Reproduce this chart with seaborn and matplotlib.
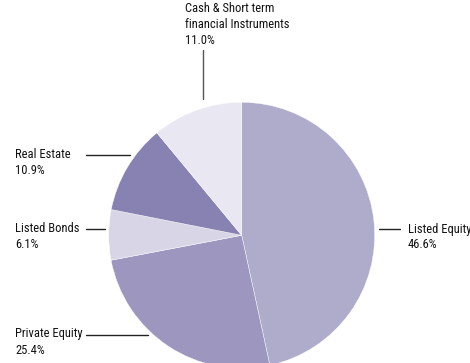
import matplotlib
matplotlib.use("Agg")
import matplotlib.pyplot as plt
import seaborn as sns

categories = ["Listed Equity", "Private Equity", "Listed Bonds", "Real Estate",
              "Cash & Short term\nfinancial Instruments"]
values = [46.6, 25.4, 6.1, 10.9, 11.0]
colors = ["#AFABCB", "#9D97C0", "#D8D5E7", "#8782B1", "#E9E7F2"]

sns.set_theme(style="white")
plt.rcParams['font.family'] = ['Roboto Condensed', 'DejaVu Sans']

W, H = 470, 363
fig = plt.figure(figsize=(4.7, 3.63), dpi=100)
ax = fig.add_axes([0, 0, 1, 1])

cx, cy, r = 241.7, H - 235.3, 133
ax.pie(values, colors=colors, startangle=90, counterclock=False,
       center=(cx, cy), radius=r, frame=True,
       wedgeprops=dict(edgecolor='white', linewidth=0.3))
ax.set_xlim(0, W)
ax.set_ylim(0, H)
ax.set_aspect('equal')
ax.axis('off')

fs = 9
tc = "#111111"
lc = "#222222"

def label(x, y, name, val, ha="left"):
    ax.text(x, H - y, f"{name}\n{val:.1f}%", ha=ha, va="top", fontsize=fs,
            color=tc, linespacing=1.3)

# Cash (top)
label(185, 2, categories[4], values[4])
ax.plot([203, 203], [H - 50, H - 99], color="#555555", lw=1)
# Real Estate
label(15, 148.5, categories[3], values[3])
ax.plot([86, 130], [H - 155, H - 155], color=lc, lw=1)
# Listed Bonds
label(15, 222.5, categories[2], values[2])
ax.plot([86, 105], [H - 229, H - 229], color=lc, lw=1)
# Private Equity
label(15, 327.5, categories[1], values[1])
ax.plot([86, 148], [H - 335, H - 335], color=lc, lw=1)
# Listed Equity
label(408, 222.5, categories[0], values[0])
ax.plot([379, 400], [H - 229, H - 229], color=lc, lw=1)

fig.savefig("out.png", dpi=100)
